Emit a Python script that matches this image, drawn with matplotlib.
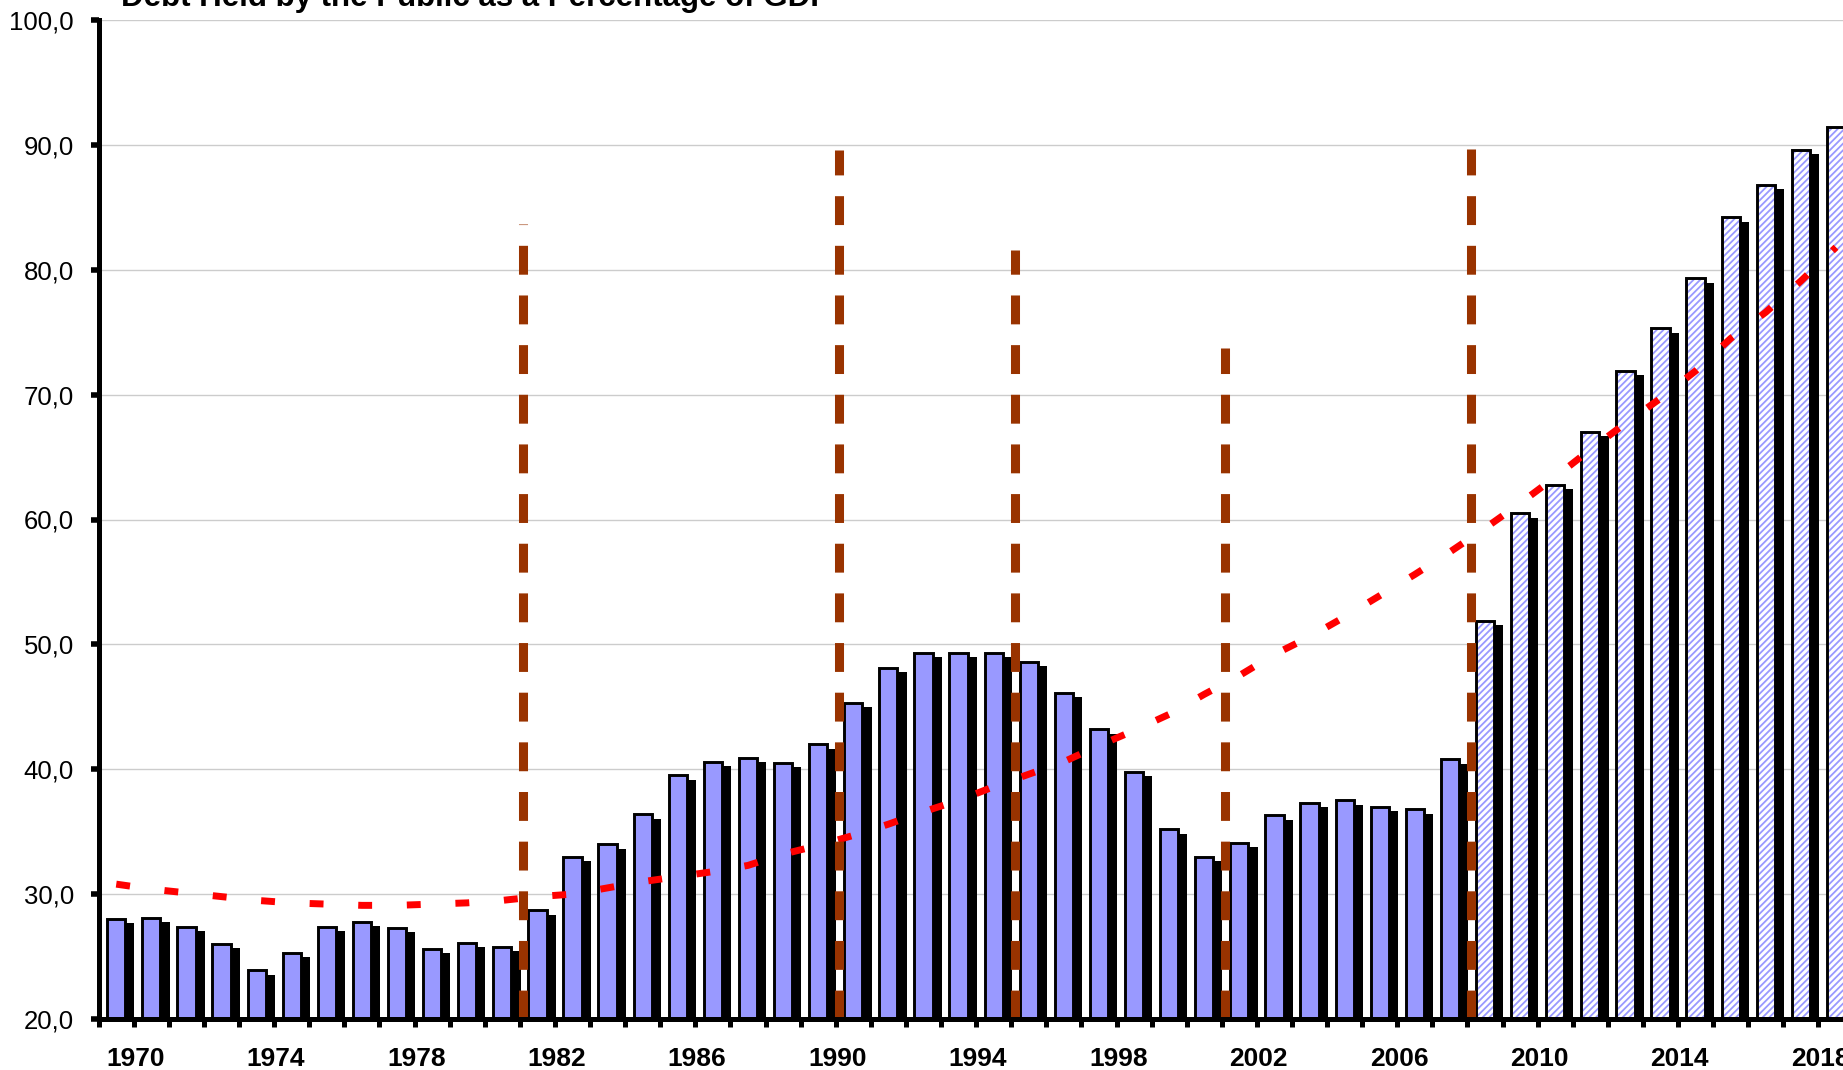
import matplotlib
matplotlib.use("Agg")
import matplotlib.pyplot as plt
import numpy as np

# ---------------- data ----------------
years = list(range(1970, 2020))
debt_pct = [28.0, 28.1, 27.4, 26.0, 23.9, 25.3, 27.4, 27.8, 27.3, 25.6,
            26.1, 25.8, 28.7, 33.0, 34.0, 36.4, 39.5, 40.6, 40.9, 40.5,
            42.0, 45.3, 48.1, 49.3, 49.3, 49.3, 48.6, 46.1, 43.2, 39.8,
            35.2, 33.0, 34.1, 36.3, 37.3, 37.5, 37.0, 36.8, 40.8, 51.9,
            60.5, 62.8, 67.0, 71.9, 75.3, 79.3, 84.2, 86.8, 89.6, 91.4]
first_projected_year = 2009
trend_pct = [30.8, 30.4, 30.1, 29.8, 29.5, 29.3, 29.2, 29.1, 29.1, 29.2,
             29.3, 29.5, 29.8, 30.0, 30.5, 31.0, 31.4, 31.8, 32.3, 33.2,
             33.9, 34.7, 35.6, 36.6, 37.5, 38.6, 39.6, 40.6, 41.9, 43.1,
             44.4, 46.0, 47.5, 49.2, 50.6, 52.2, 53.9, 55.6, 57.4, 59.3,
             61.3, 63.4, 65.6, 67.7, 69.7, 71.9, 74.5, 76.6, 79.1, 81.8]
event_years = [1981, 1990, 1995, 2001, 2008]
event_tops = [83.7, 89.6, 81.6, 73.7, 89.7]
label_years = list(range(1970, 2019, 4))
y_ticks = list(range(20, 101, 10))
title = "Debt Held by the Public as a Percentage of GDP"

# ---------------- style ----------------
plt.rcParams['font.family'] = ['Liberation Sans', 'DejaVu Sans']
plt.rcParams['hatch.linewidth'] = 1.3

W, H = 1843, 1070
fig = plt.figure(figsize=(W / 100, H / 100), dpi=100)
ax = fig.add_axes([98.7 / W, 1 - 1019 / H, 1 - 98.7 / W, (1019 - 20) / H])

x = np.array(years, dtype=float)
vals = np.array(debt_pct)
proj = x >= first_projected_year

bar_w = 0.52
shadow_dx = 0.26
shadow_dy = 0.35

# shadows
ax.bar(x + shadow_dx, vals - shadow_dy, width=bar_w, color='black',
       linewidth=0, zorder=2)
# historical bars
ax.bar(x[~proj], vals[~proj], width=bar_w, facecolor='#9999FF',
       edgecolor='black', linewidth=2.1, zorder=3)
# projected bars (hatched)
ax.bar(x[proj], vals[proj], width=bar_w, facecolor='white',
       edgecolor='#9999FF', hatch='/////', linewidth=0, zorder=3)
ax.bar(x[proj], vals[proj], width=bar_w, fill=False,
       edgecolor='black', linewidth=2.1, zorder=3.5)

# trend line
ax.plot(x, trend_pct, color='#FF0000', lw=5, dashes=(2.0, 5.0),
        dash_capstyle='butt', zorder=5)

# event lines
for ey, top in zip(event_years, event_tops):
    ax.plot([ey + 0.6, ey + 0.6], [20, top], color='#993300', lw=6.5,
            dashes=(3.2, 2.3), dash_capstyle='butt', zorder=6)

ax.set_xlim(1969.5, 2019.2)
ax.set_ylim(20, 100)

# axes styling
for s in ['top', 'right']:
    ax.spines[s].set_visible(False)
for s in ['left', 'bottom']:
    ax.spines[s].set_linewidth(3.6)
    ax.spines[s].set_zorder(7)

ax.set_yticks(y_ticks)
ax.set_yticklabels([f"{v:.1f}".replace('.', ',') for v in y_ticks],
                   fontsize=18.5)
ax.tick_params(axis='y', direction='out', length=6, width=4, pad=11.8,
               color='black')
ax.yaxis.grid(True, color='#CCCCCC', lw=1.0)
ax.set_axisbelow(True)

ax.set_xticks([y + 0.55 for y in label_years])
ax.set_xticklabels([str(y) for y in label_years], fontsize=19,
                   fontweight='bold')
ax.tick_params(axis='x', which='major', length=0, pad=20)
ax.set_xticks(np.arange(1969.5, 2019.3, 1.0), minor=True)
ax.tick_params(axis='x', which='minor', direction='out', length=6,
               width=3.6, color='black')

fig.text(121 / W, 1 - 6 / H, title, fontsize=22.5, fontweight='bold',
         ha='left', va='baseline')

fig.savefig('out.png', dpi=100, facecolor='white')
